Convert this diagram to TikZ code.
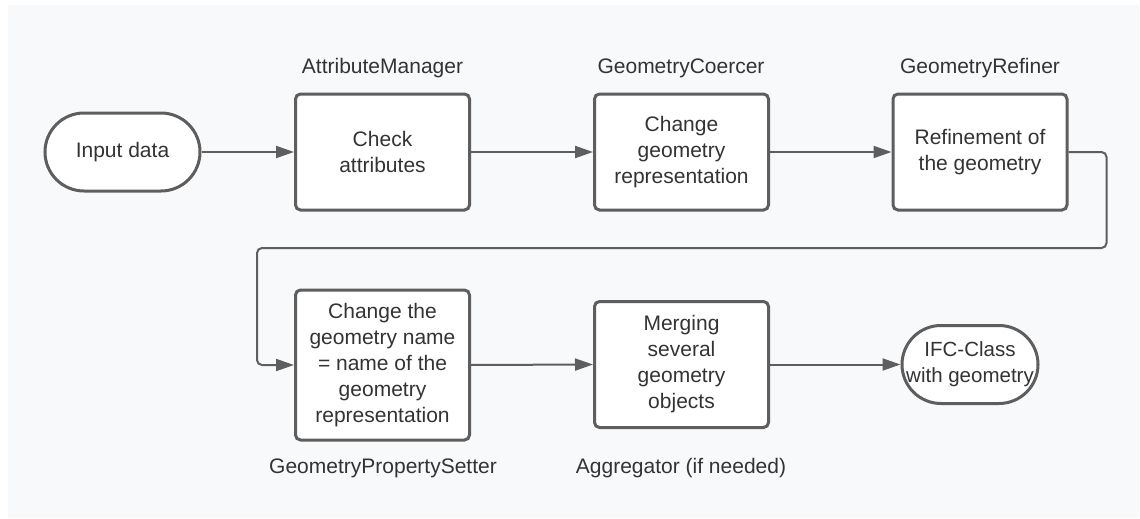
\documentclass[tikz,border=0pt]{standalone}
\usepackage{fontspec}
\setmainfont{Liberation Sans}
\usetikzlibrary{arrows.meta}
\definecolor{bgc}{HTML}{F8F9FB}
\definecolor{linec}{HTML}{5E5E5E}
\definecolor{txtc}{HTML}{333333}
\tikzset{
  stepbox/.style={draw=linec, line width=3pt, fill=white, rounded corners=5pt, minimum width=174pt, align=center, text=txtc, inner sep=0pt, font=\fontsize{21}{26}\selectfont},
  term/.style={draw=linec, line width=3pt, fill=white, rounded corners=39pt, minimum height=78pt, align=center, text=txtc, inner sep=0pt, font=\fontsize{21}{26}\selectfont},
  lbl/.style={text=txtc, inner sep=0pt, font=\fontsize{21}{26}\selectfont},
  conn/.style={draw=linec, line width=2pt, -{Triangle[length=18pt,width=12pt]}},
}
\begin{document}
\begin{tikzpicture}[x=1pt,y=-1pt]
\useasboundingbox (0,0) rectangle (1140,519);
\fill[white] (0,0) rectangle (1140,519);
\fill[bgc] (8,5) rectangle (1139,518);

\node[term, minimum width=155pt] (in) at (122.5,152) {Input data};
\node[stepbox, minimum height=116pt] (b1) at (382.5,152) {Check\\attributes};
\node[stepbox, minimum height=116pt] (b2) at (681.5,152) {Change\\geometry\\representation};
\node[stepbox, minimum height=116pt] (b3) at (980,152) {Refinement of\\the geometry};
\node[stepbox, minimum height=150pt] (b4) at (382.5,365) {Change the\\geometry name\\= name of the\\geometry\\representation};
\node[stepbox, minimum height=126pt] (b5) at (681.5,364.5) {Merging\\several\\geometry\\objects};
\node[term, minimum width=136pt, font=\fontsize{20.5}{26}\selectfont] (out) at (970,364.5) {IFC-Class\\with geometry};

\node[lbl] (l1) at (382.5,68) {AttributeManager};
\node[lbl] (l2) at (681,68) {GeometryCoercer};
\node[lbl] (l3) at (980,68) {GeometryRefiner};
\node[lbl] (l4) at (383,468) {GeometryPropertySetter};
\node[lbl] (l5) at (681,468) {Aggregator (if needed)};

\coordinate (c1) at (1106.5,248);
\coordinate (c2) at (257,248);

\draw[conn] (in.east) -- (b1.west);
\draw[conn] (b1.east) -- (b2.west);
\draw[conn] (b2.east) -- (b3.west);
\draw[conn, rounded corners=5pt] (b3.east) -| (c1) -- (c2) |- (b4.west);
\draw[conn] (b4.east) -- (b5.west);
\draw[conn] (b5.east) -- (out.west);
\end{tikzpicture}
\end{document}
